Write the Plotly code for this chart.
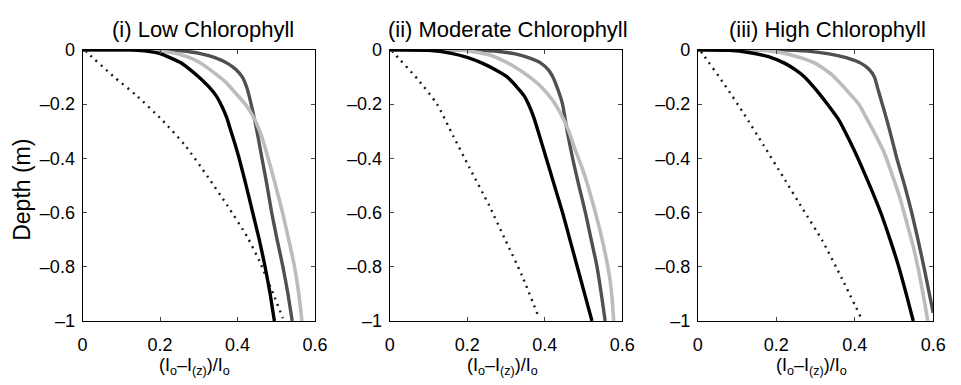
import plotly.graph_objects as go

# ---------------- data ----------------
panel_titles = ["(i) Low Chlorophyll", "(ii) Moderate Chlorophyll", "(iii) High Chlorophyll"]
x_axis_title = "(I<sub>o</sub>\u2013I<sub>(z)</sub>)/I<sub>o</sub>"
y_axis_title = "Depth (m)"

# Panel (i) Low Chlorophyll
p1_black_x = [0.0, 0.12, 0.16, 0.20, 0.25, 0.275, 0.30, 0.325, 0.345, 0.36, 0.372, 0.383, 0.394, 0.404, 0.422, 0.439, 0.456, 0.471, 0.484, 0.495]
p1_black_y = [0.0, 0.0, -0.004, -0.014, -0.045, -0.07, -0.10, -0.135, -0.17, -0.21, -0.25, -0.30, -0.35, -0.40, -0.50, -0.60, -0.70, -0.80, -0.90, -1.0]
p1_dark_x = [0.0, 0.18, 0.24, 0.28, 0.307, 0.34, 0.374, 0.395, 0.412, 0.424, 0.435, 0.45, 0.463, 0.476, 0.488, 0.502, 0.517, 0.53, 0.541]
p1_dark_y = [0.0, 0.0, -0.003, -0.008, -0.015, -0.028, -0.05, -0.072, -0.10, -0.14, -0.20, -0.30, -0.40, -0.50, -0.60, -0.70, -0.80, -0.90, -1.0]
p1_light_x = [0.0, 0.17, 0.22, 0.25, 0.273, 0.30, 0.34, 0.37, 0.395, 0.42, 0.44, 0.46, 0.479, 0.498, 0.516, 0.532, 0.547, 0.558, 0.566]
p1_light_y = [0.0, 0.0, -0.008, -0.016, -0.027, -0.045, -0.085, -0.12, -0.16, -0.20, -0.245, -0.31, -0.40, -0.50, -0.60, -0.70, -0.80, -0.90, -1.0]
p1_dot_x = [0.008, 0.016, 0.079, 0.138, 0.206, 0.265, 0.324, 0.374, 0.425, 0.458, 0.492, 0.517]
p1_dot_y = [-0.003, -0.015, -0.097, -0.167, -0.26, -0.353, -0.47, -0.575, -0.69, -0.784, -0.90, -0.99]

# Panel (ii) Moderate Chlorophyll
p2_black_x = [0.0, 0.10, 0.156, 0.20, 0.24, 0.275, 0.303, 0.33, 0.347, 0.358, 0.372, 0.383, 0.404, 0.425, 0.446, 0.465, 0.484, 0.503, 0.522]
p2_black_y = [0.0, -0.002, -0.012, -0.028, -0.05, -0.075, -0.10, -0.14, -0.17, -0.20, -0.25, -0.30, -0.40, -0.50, -0.60, -0.70, -0.80, -0.90, -1.0]
p2_dark_x = [0.0, 0.20, 0.27, 0.324, 0.36, 0.391, 0.41, 0.421, 0.435, 0.446, 0.458, 0.472, 0.488, 0.505, 0.52, 0.535, 0.546, 0.556]
p2_dark_y = [0.0, 0.0, -0.005, -0.015, -0.03, -0.05, -0.075, -0.10, -0.15, -0.20, -0.30, -0.40, -0.50, -0.60, -0.70, -0.80, -0.90, -1.0]
p2_light_x = [0.0, 0.17, 0.22, 0.26, 0.29, 0.325, 0.358, 0.39, 0.42, 0.443, 0.462, 0.479, 0.495, 0.509, 0.527, 0.543, 0.556, 0.568, 0.574, 0.578]
p2_light_y = [0.0, 0.0, -0.008, -0.02, -0.038, -0.065, -0.097, -0.135, -0.185, -0.24, -0.30, -0.37, -0.43, -0.49, -0.58, -0.668, -0.75, -0.843, -0.92, -1.0]
p2_dot_x = [0.006, 0.013, 0.072, 0.122, 0.164, 0.206, 0.257, 0.299, 0.341, 0.385]
p2_dot_y = [-0.003, -0.015, -0.108, -0.20, -0.318, -0.435, -0.575, -0.703, -0.831, -0.988]

# Panel (iii) High Chlorophyll
p3_black_x = [0.0, 0.08, 0.13, 0.18, 0.222, 0.25, 0.272, 0.30, 0.33, 0.36, 0.385, 0.408, 0.438, 0.466, 0.49, 0.512, 0.531, 0.549]
p3_black_y = [0.0, -0.002, -0.01, -0.025, -0.05, -0.075, -0.10, -0.145, -0.20, -0.26, -0.33, -0.40, -0.50, -0.60, -0.70, -0.80, -0.90, -1.0]
p3_dark_x = [0.0, 0.20, 0.28, 0.334, 0.38, 0.416, 0.435, 0.45, 0.46, 0.47, 0.48, 0.493, 0.507, 0.527, 0.545, 0.561, 0.576, 0.59, 0.60]
p3_dark_y = [0.0, 0.0, -0.005, -0.015, -0.03, -0.05, -0.07, -0.10, -0.15, -0.20, -0.25, -0.32, -0.40, -0.50, -0.60, -0.70, -0.80, -0.90, -0.97]
p3_light_x = [0.0, 0.15, 0.21, 0.26, 0.30, 0.34, 0.383, 0.41, 0.433, 0.455, 0.474, 0.495, 0.516, 0.533, 0.549, 0.562, 0.574, 0.586]
p3_light_y = [0.0, 0.0, -0.01, -0.028, -0.05, -0.09, -0.155, -0.20, -0.26, -0.32, -0.376, -0.46, -0.551, -0.64, -0.726, -0.81, -0.90, -1.0]
p3_dot_x = [0.008, 0.015, 0.069, 0.118, 0.168, 0.218, 0.267, 0.317, 0.367, 0.416]
p3_dot_y = [-0.005, -0.02, -0.13, -0.237, -0.353, -0.47, -0.586, -0.703, -0.843, -0.988]

x_tick_vals = [0, 0.2, 0.4, 0.6]
x_tick_text = ["0", "0.2", "0.4", "0.6"]
y_tick_vals = [0, -0.2, -0.4, -0.6, -0.8, -1]
y_tick_text = ["0", "\u20130.2", "\u20130.4", "\u20130.6", "\u20130.8", "\u20131"]

panels = [
    (p1_black_x, p1_black_y, p1_dark_x, p1_dark_y, p1_light_x, p1_light_y, p1_dot_x, p1_dot_y),
    (p2_black_x, p2_black_y, p2_dark_x, p2_dark_y, p2_light_x, p2_light_y, p2_dot_x, p2_dot_y),
    (p3_black_x, p3_black_y, p3_dark_x, p3_dark_y, p3_light_x, p3_light_y, p3_dot_x, p3_dot_y),
]

# ---------------- layout geometry ----------------
W, H = 961, 385
x_domains_px = [(79, 316), (392, 629), (706, 946)]
title_centers_px = [202, 513, 838]
y_top_px, y_bot_px = 42, 328
FONT = "Liberation Sans"

fig = go.Figure()
for i, (bx, by, dx, dy, lx, ly, ox, oy) in enumerate(panels):
    xa = "x" if i == 0 else f"x{i+1}"
    ya = "y" if i == 0 else f"y{i+1}"
    common = dict(xaxis=xa, yaxis=ya, mode="lines", showlegend=False, hoverinfo="skip")
    fig.add_trace(go.Scatter(x=ox, y=oy, line=dict(color="#1a1a1a", width=2.4, dash="2px,5px", shape="spline", smoothing=0.6), **common))
    fig.add_trace(go.Scatter(x=dx, y=dy, line=dict(color="#505050", width=3.4, shape="spline", smoothing=0.5), **common))
    fig.add_trace(go.Scatter(x=lx, y=ly, line=dict(color="#bcbcbc", width=3.6, shape="spline", smoothing=0.5), **common))
    fig.add_trace(go.Scatter(x=bx, y=by, line=dict(color="#000000", width=3.4, shape="spline", smoothing=0.5), **common))

layout = dict(
    width=W, height=H,
    margin=dict(l=0, r=0, t=0, b=0),
    paper_bgcolor="white", plot_bgcolor="white",
    font=dict(family=FONT, size=18, color="black"),
)
annotations = []
for i, (xl, xr) in enumerate(x_domains_px):
    suffix = "" if i == 0 else str(i + 1)
    layout["xaxis" + suffix] = dict(
        domain=[xl / W, xr / W], range=[0, 0.6], anchor="y" + suffix,
        tickvals=x_tick_vals, ticktext=x_tick_text, ticks="inside", ticklen=4,
        showline=True, linecolor="black", linewidth=1, mirror="ticks",
        showgrid=False, zeroline=False, tickfont=dict(family=FONT, size=18, color="black"),
        ticklabelstandoff=7,
    )
    layout["yaxis" + suffix] = dict(
        domain=[1 - y_bot_px / H, 1 - y_top_px / H], range=[-1, 0], anchor="x" + suffix,
        tickvals=y_tick_vals, ticktext=y_tick_text, ticks="inside", ticklen=4,
        showline=True, linecolor="black", linewidth=1, mirror="ticks",
        showgrid=False, zeroline=False, tickfont=dict(family=FONT, size=18, color="black"),
        ticklabelstandoff=3,
    )
    annotations.append(dict(
        text=panel_titles[i], x=title_centers_px[i] / W, y=1 - 21 / H,
        xref="paper", yref="paper", showarrow=False, xanchor="center", yanchor="middle",
        font=dict(size=22, family=FONT, color="black"),
    ))
    annotations.append(dict(
        text=x_axis_title, x=((xl + xr) / 2 - 4) / W, y=1 - 376 / H,
        xref="paper", yref="paper", showarrow=False, xanchor="center", yanchor="middle",
        font=dict(size=18, family=FONT, color="black"),
    ))
annotations.append(dict(
    text=y_axis_title, x=17 / W, y=1 - 190 / H, textangle=-90,
    xref="paper", yref="paper", showarrow=False, xanchor="center", yanchor="middle",
    font=dict(size=23, family=FONT, color="black"),
))
layout["annotations"] = annotations
fig.update_layout(**layout)
fig.write_html("out.html")
